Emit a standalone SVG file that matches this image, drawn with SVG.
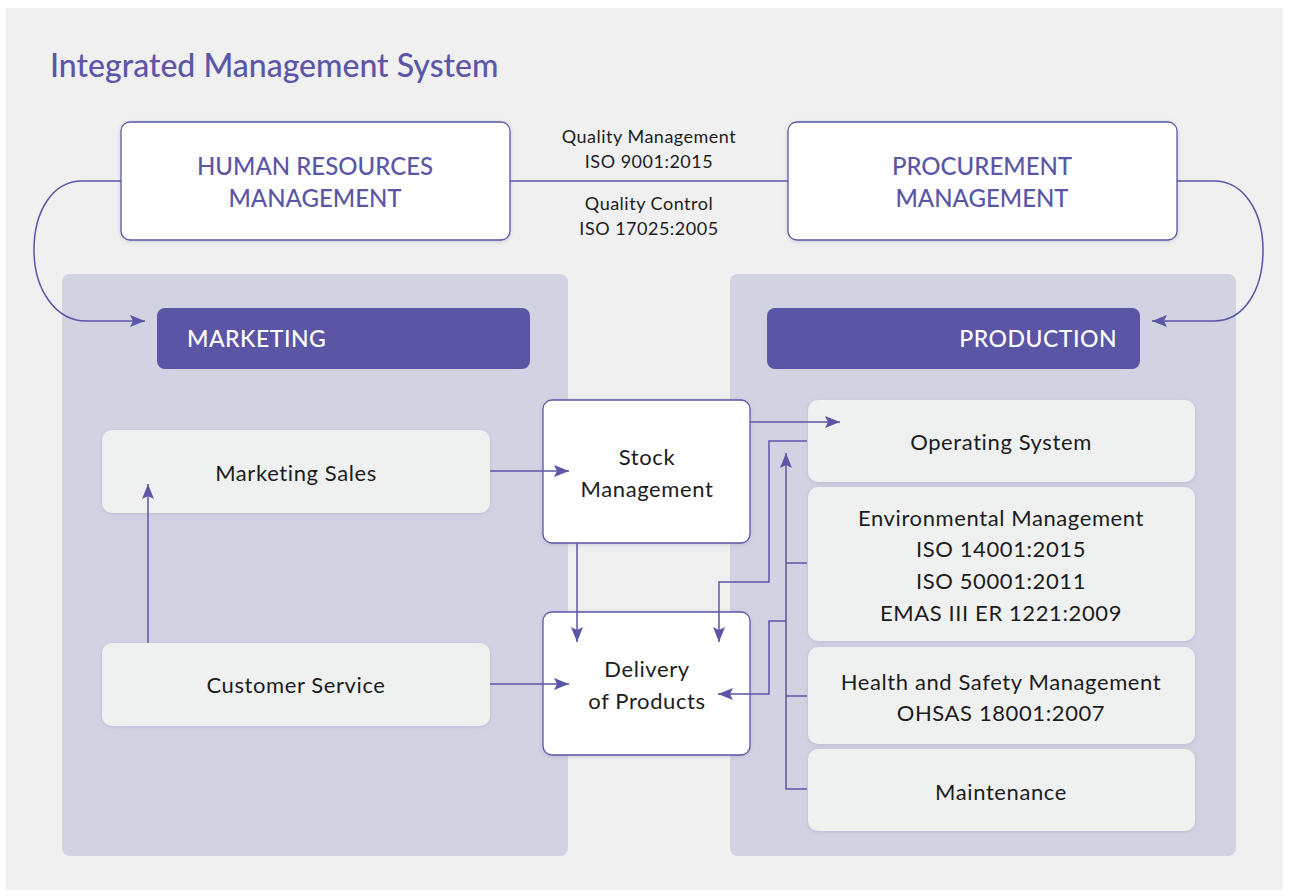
<svg xmlns="http://www.w3.org/2000/svg" width="1289" height="896" viewBox="0 0 1289 896">
<defs>
<style>
.bg{fill:#eff0ef}
.panel{fill:#d2d3e2}
.hdr{fill:#5a55a4}
.wbox{fill:#ffffff;stroke:#5b56a6;stroke-width:1.3}
.lbox{fill:#eff0f0}
.ln{fill:none;stroke:#5b56a6;stroke-width:1.5}
.t{font-family:"Lato","Liberation Sans",sans-serif;font-size:22px;letter-spacing:0.6px;fill:#1c1c1c;text-anchor:middle}
.ts{font-family:"Lato","Liberation Sans",sans-serif;font-size:18px;letter-spacing:0.5px;fill:#1c1c1c;text-anchor:middle}
.tp{font-family:"Lato","Liberation Sans",sans-serif;font-size:24px;fill:#5b56a6;text-anchor:middle;font-weight:500}
.th{font-family:"Lato","Liberation Sans",sans-serif;font-size:23px;letter-spacing:0.5px;fill:#ffffff;font-weight:500}
.title{font-family:"Lato","Liberation Sans",sans-serif;font-size:32px;fill:#5b56a6;font-weight:500}
</style>
<filter id="sh" x="-5%" y="-10%" width="110%" height="120%">
<feDropShadow dx="0" dy="1" stdDeviation="2" flood-color="#8a88b0" flood-opacity="0.35"/>
</filter>
<marker id="ar" viewBox="0 0 15 12" refX="15" refY="6" markerWidth="15" markerHeight="12" markerUnits="userSpaceOnUse" orient="auto">
<path d="M0,0 L15,6 L0,12 L3,6 z" fill="#5b56a6"/>
</marker>
</defs>
<rect x="0" y="0" width="1289" height="896" fill="#ffffff"/>
<rect class="bg" x="6" y="8" width="1277" height="882"/>
<text class="title" x="50" y="77">Integrated Management System</text>

<g id="marketing-panel">
<rect class="panel" x="62" y="274" width="506" height="582" rx="8"/>
<rect class="hdr" x="157" y="308" width="373" height="61" rx="8"/>
<text class="th" x="187" y="347">MARKETING</text>
</g>
<g id="production-panel">
<rect class="panel" x="730" y="274" width="506" height="582" rx="8"/>
<rect class="hdr" x="767" y="308" width="373" height="61" rx="8"/>
<text class="th" x="1117" y="347" text-anchor="end">PRODUCTION</text>
</g>

<g id="hr">
<rect class="wbox" x="121" y="122" width="389" height="118" rx="9" filter="url(#sh)"/>
<text class="tp" x="315" y="175">HUMAN RESOURCES</text>
<text class="tp" x="315" y="207">MANAGEMENT</text>
</g>
<g id="procurement">
<rect class="wbox" x="788" y="122" width="389" height="118" rx="9" filter="url(#sh)"/>
<text class="tp" x="982" y="175">PROCUREMENT</text>
<text class="tp" x="982" y="207">MANAGEMENT</text>
</g>
<g id="quality">
<text class="ts" x="649" y="143">Quality Management</text>
<text class="ts" x="649" y="168">ISO 9001:2015</text>
<text class="ts" x="649" y="210">Quality Control</text>
<text class="ts" x="649" y="235">ISO 17025:2005</text>
</g>

<g id="marketing-sales">
<rect class="lbox" x="102" y="430" width="388" height="83" rx="10" filter="url(#sh)"/>
<text class="t" x="296" y="481">Marketing Sales</text>
</g>
<g id="customer-service">
<rect class="lbox" x="102" y="643" width="388" height="83" rx="10" filter="url(#sh)"/>
<text class="t" x="296" y="693">Customer Service</text>
</g>
<g id="stock">
<rect class="wbox" x="543" y="400" width="207" height="143" rx="9" filter="url(#sh)"/>
<text class="t" x="647" y="465">Stock</text>
<text class="t" x="647" y="497">Management</text>
</g>
<g id="delivery">
<rect class="wbox" x="543" y="612" width="207" height="143" rx="9" filter="url(#sh)"/>
<text class="t" x="647" y="677">Delivery</text>
<text class="t" x="647" y="709">of Products</text>
</g>
<g id="operating">
<rect class="lbox" x="808" y="400" width="387" height="82" rx="10" filter="url(#sh)"/>
<text class="t" x="1001" y="450">Operating System</text>
</g>
<g id="environmental">
<rect class="lbox" x="808" y="487" width="387" height="154" rx="10" filter="url(#sh)"/>
<text class="t" x="1001" y="526">Environmental Management</text>
<text class="t" x="1001" y="557">ISO 14001:2015</text>
<text class="t" x="1001" y="589">ISO 50001:2011</text>
<text class="t" x="1001" y="621">EMAS III ER 1221:2009</text>
</g>
<g id="health">
<rect class="lbox" x="808" y="647" width="387" height="97" rx="10" filter="url(#sh)"/>
<text class="t" x="1001" y="690">Health and Safety Management</text>
<text class="t" x="1001" y="721">OHSAS 18001:2007</text>
</g>
<g id="maintenance">
<rect class="lbox" x="808" y="749" width="387" height="82" rx="10" filter="url(#sh)"/>
<text class="t" x="1001" y="800">Maintenance</text>
</g>

<g id="connectors">
<line class="ln" x1="510" y1="181" x2="788" y2="181"/>
<path class="ln" d="M121,181 H82 C52,181 34,212 34,250 C34,290 56,321 86,321 H145" marker-end="url(#ar)"/>
<path class="ln" d="M1177,181 H1214 C1244,181 1263,212 1263,250 C1263,290 1244,321 1214,321 H1152" marker-end="url(#ar)"/>
<path class="ln" d="M148,643 V484" marker-end="url(#ar)"/>
<path class="ln" d="M490,471 H569" marker-end="url(#ar)"/>
<path class="ln" d="M490,684 H569" marker-end="url(#ar)"/>
<path class="ln" d="M577,543 V642" marker-end="url(#ar)"/>
<path class="ln" d="M750,422 H840" marker-end="url(#ar)"/>
<path class="ln" d="M807,441 H769 V582 H719 V642" marker-end="url(#ar)"/>
<path class="ln" d="M807,789 H786 V453" marker-end="url(#ar)"/>
<path class="ln" d="M786,563 H807 M786,696 H807"/>
<path class="ln" d="M786,621 H769 V694 H718" marker-end="url(#ar)"/>
</g>
</svg>
